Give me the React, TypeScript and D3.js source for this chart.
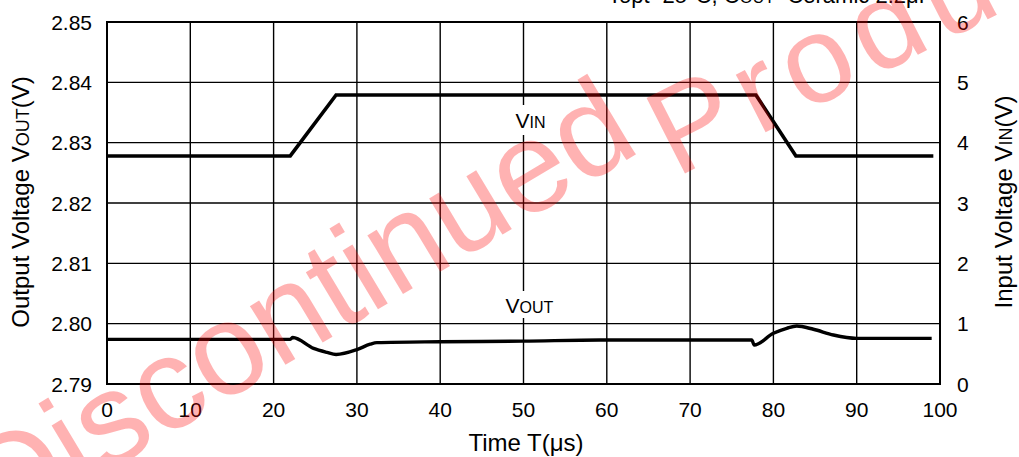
import React from "react";
import * as d3 from "d3";

const xTicks = [0, 10, 20, 30, 40, 50, 60, 70, 80, 90, 100];
const yLeftTicks = [2.79, 2.8, 2.81, 2.82, 2.83, 2.84, 2.85];
const yLeftLabels = ["2.79", "2.80", "2.81", "2.82", "2.83", "2.84", "2.85"];
const yRightTicks = [0, 1, 2, 3, 4, 5, 6];

const vinTime = [0, 22, 27.5, 77.9, 82.7, 99.2];
const vinValue = [3.78, 3.78, 4.79, 4.79, 3.78, 3.78];

const voutTime = [0, 22, 22.3, 24.8, 26.4, 27.5, 30, 31.6, 32.4, 40, 50, 59.2, 77.4, 77.7, 80, 81.6, 82.8, 84.8, 87.2, 90, 99];
const voutValue = [2.7974, 2.7974, 2.7977, 2.7959, 2.79525, 2.7949, 2.7957, 2.7966, 2.79685, 2.797, 2.7971, 2.7973, 2.7973, 2.79646, 2.7984, 2.79923, 2.79961, 2.79907, 2.79812, 2.79757, 2.79757];

const W = 1019;
const H = 457;
const FONT = "'Liberation Sans', Arial, sans-serif";

export default function App() {
  const x = d3.scaleLinear().domain([0, 100]).range([107, 940]);
  const yL = d3.scaleLinear().domain([2.79, 2.85]).range([384, 22]);
  const yR = d3.scaleLinear().domain([0, 6]).range([384, 22]);

  const vinLine = d3
    .line<number>()
    .x((_, i) => x(vinTime[i]))
    .y((v) => yR(v))(vinValue);
  const voutLine = d3
    .line<number>()
    .x((_, i) => x(voutTime[i]))
    .y((v) => yL(v))
    .curve(d3.curveMonotoneX)(voutValue);

  return (
    <svg
      width={W}
      height={H}
      style={{ position: "absolute", left: 0, top: 0, background: "#fff" }}
      fontFamily={FONT}
    >
      <rect x={0} y={0} width={W} height={H} fill="#fff" />
      {/* top annotation (clipped by top edge) */}
      <text x={608} y={3} fontSize={22} fill="#000">
        Topt=25°C, C<tspan fontSize={16.5}>OUT</tspan>=Ceramic 2.2μF
      </text>
      {/* grid */}
      {xTicks.slice(1, -1).map((t) => (
        <line key={"gx" + t} x1={x(t)} x2={x(t)} y1={yL(2.85)} y2={yL(2.79)} stroke="#000" strokeWidth={1.4} />
      ))}
      {yLeftTicks.slice(1, -1).map((t) => (
        <line key={"gy" + t} x1={x(0)} x2={x(100)} y1={yL(t)} y2={yL(t)} stroke="#000" strokeWidth={1.4} />
      ))}
      <rect x={x(0)} y={yL(2.85)} width={x(100) - x(0)} height={yL(2.79) - yL(2.85)} fill="none" stroke="#000" strokeWidth={2} />

      {/* series labels with white backing */}
      <rect x={509} y={105} width={44} height={30} fill="#fff" />
      <text x={x(50) + 7} y={128} fontSize={21} textAnchor="middle" fill="#000">
        V<tspan fontSize={16}>IN</tspan>
      </text>
      <rect x={500} y={291} width={60} height={27} fill="#fff" />
      <text x={x(50) + 6} y={313} fontSize={21} textAnchor="middle" fill="#000">
        V<tspan fontSize={16}>OUT</tspan>
      </text>

      {/* data */}
      <path d={vinLine || ""} fill="none" stroke="#000" strokeWidth={3.6} strokeLinejoin="miter" />
      <path d={voutLine || ""} fill="none" stroke="#000" strokeWidth={3.4} strokeLinejoin="round" />

      {/* tick labels */}
      {yLeftTicks.map((t, i) => (
        <text key={"yl" + t} x={92} y={yL(t)} dy="0.36em" fontSize={21} textAnchor="end" fill="#000">
          {yLeftLabels[i]}
        </text>
      ))}
      {yRightTicks.map((t) => (
        <text key={"yr" + t} x={957} y={yR(t)} dy="0.36em" fontSize={21} textAnchor="start" fill="#000">
          {t}
        </text>
      ))}
      {xTicks.map((t) => (
        <text key={"xt" + t} x={x(t)} y={417} fontSize={21} textAnchor="middle" fill="#000">
          {t}
        </text>
      ))}

      {/* axis titles */}
      <text x={526} y={451} fontSize={24} textAnchor="middle" fill="#000">
        Time T(μs)
      </text>
      <text transform="translate(29,202) rotate(-90)" fontSize={24} textAnchor="middle" fill="#000">
        Output Voltage V<tspan fontSize={18}>OUT</tspan>(V)
      </text>
      <text transform="translate(1012,202) rotate(-90)" fontSize={24} textAnchor="middle" fill="#000">
        Input Voltage V<tspan fontSize={18}>IN</tspan>(V)
      </text>

      {/* watermark */}
      <g fill="#ff0000" fillOpacity={0.3} fontFamily={FONT}>
        <text transform="translate(-1,537) rotate(-31)" fontSize={130}>
          Discontinued
        </text>
        <text transform="translate(676,178) rotate(-27)" fontSize={123} letterSpacing={10}>
          Product
        </text>
      </g>
    </svg>
  );
}
